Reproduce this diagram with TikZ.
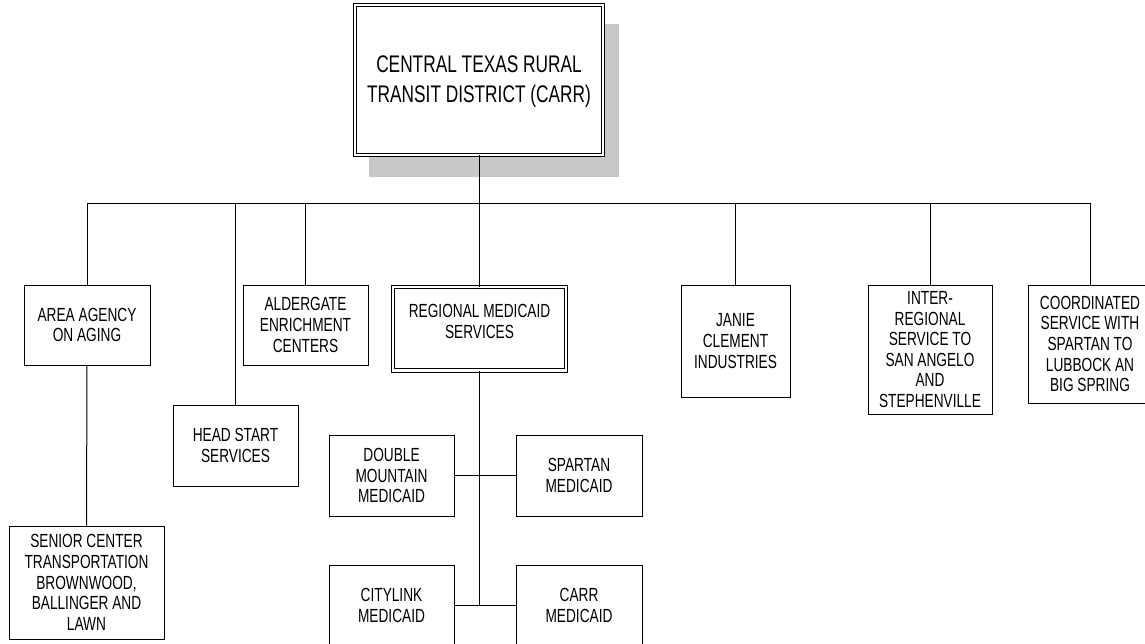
\documentclass[tikz,border=0pt]{standalone}
\usepackage{fontspec}
\setmainfont{Liberation Sans}[FakeStretch=0.72]
\begin{document}
\begin{tikzpicture}[x=1pt,y=-1pt,
  box/.style={draw, fill=white, line width=1pt, align=center, inner sep=0pt,
    font=\fontsize{19}{20.6}\selectfont},
  dbox/.style={box, line width=0.9pt, double=white, double distance=2.4pt},
  conn/.style={line width=1pt}]
\useasboundingbox (0,0) rectangle (1145,644);
% shadow
\fill[black!22] (369,24) rectangle (619,177);
% top
\node[dbox, minimum width=248pt, minimum height=150pt,
  label={[align=center, font=\fontsize{24}{30}\selectfont, yshift=-2pt]center:CENTRAL TEXAS RURAL\\TRANSIT DISTRICT (CARR)}] (top) at (479,80) {};
% second level
\node[box, minimum width=126pt, minimum height=80pt] (area) at (87,325) {AREA AGENCY\\ON AGING};
\node[box, minimum width=125pt, minimum height=80pt] (alder) at (305.5,325) {ALDERGATE\\ENRICHMENT\\CENTERS};
\node[box, minimum width=125pt, minimum height=81pt] (head) at (235.5,445.5) {HEAD START\\SERVICES};
\node[box, minimum width=155pt, minimum height=113pt] (senior) at (86.5,582.5) {SENIOR CENTER\\TRANSPORTATION\\BROWNWOOD,\\BALLINGER AND\\LAWN};
\node[dbox, minimum width=172.5pt, minimum height=83.5pt,
  label={[align=center, font=\fontsize{19}{20.6}\selectfont, yshift=7pt]center:REGIONAL MEDICAID\\SERVICES}] (reg) at (479.5,328.75) {};
\node[box, minimum width=125pt, minimum height=81pt] (dbl) at (391.5,475.5) {DOUBLE\\MOUNTAIN\\MEDICAID};
\node[box, minimum width=126pt, minimum height=81pt] (spartan) at (579,475.5) {SPARTAN\\MEDICAID};
\node[box, minimum width=125pt, minimum height=81pt] (city) at (391.5,605.5) {CITYLINK\\MEDICAID};
\node[box, minimum width=126pt, minimum height=81pt] (carr) at (579,605.5) {CARR\\MEDICAID};
\node[box, minimum width=109pt, minimum height=112pt] (janie) at (735.5,341) {JANIE\\CLEMENT\\INDUSTRIES};
\node[box, minimum width=124pt, minimum height=129pt] (inter) at (930,349.5) {INTER-\\REGIONAL\\SERVICE TO\\SAN ANGELO\\AND\\STEPHENVILLE};
\node[box, minimum width=124pt, minimum height=118pt] (coord) at (1090,344) {COORDINATED\\SERVICE WITH\\SPARTAN TO\\LUBBOCK AN\\BIG SPRING};
% connectors
\coordinate (bus) at (479,204);
\draw[conn] (top.south) -- (bus);
\draw[conn] (area.north) |- (bus);
\draw[conn] (head.north) |- (bus);
\draw[conn] (alder.north) |- (bus);
\draw[conn] (reg.north) |- (bus);
\draw[conn] (janie.north) |- (bus);
\draw[conn] (inter.north) |- (bus);
\draw[conn] (coord.north) |- (bus);
\draw[conn] (area.south) -- (senior.north);
\draw[conn] (reg.south) -- (reg.south |- city.east);
\draw[conn] (dbl.east) -- (spartan.west);
\draw[conn] (city.east) -- (carr.west);
\end{tikzpicture}
\end{document}
